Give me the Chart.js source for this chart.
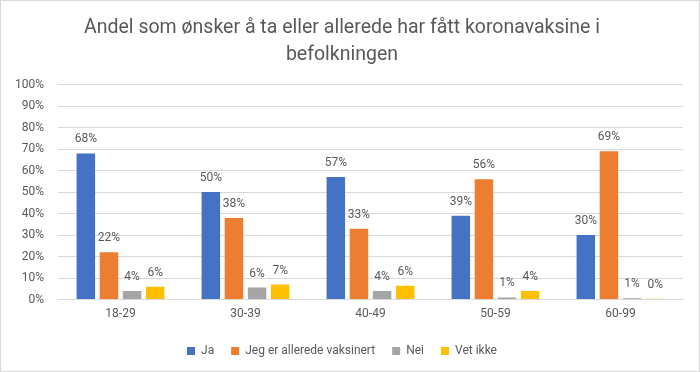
<!DOCTYPE html>
<html>
<head>
<meta charset="utf-8">
<script src="https://cdn.jsdelivr.net/npm/chart.js@4/dist/chart.umd.min.js"></script>
<style>
  html, body { margin: 0; padding: 0; background: #fff; }
  #wrap { position: relative; width: 698px; height: 370px; border: 1px solid #d9d9d9; }
</style>
</head>
<body>
<div id="wrap"><canvas id="chart" width="698" height="370"></canvas></div>
<script>
// categories (age groups)
const ageGroups = ["18-29", "30-39", "40-49", "50-59", "60-99"];

// series values, percent
const ja = [68, 50, 57, 39, 30];
const vaksinert = [22, 38, 33, 56, 69];
const nei = [4, 5.6, 4, 1, 0.6];
const vetIkke = [6, 7, 6.4, 4, 0.4];

const seriesNames = ["Ja", "Jeg er allerede vaksinert", "Nei", "Vet ikke"];
const colors = ["#4472C4", "#ED7D31", "#A5A5A5", "#FFC000"];

const fontFamily = "'Roboto', sans-serif";

// draws the % labels above each bar
const barLabels = {
  id: "barLabels",
  afterDatasetsDraw(chart) {
    const ctx = chart.ctx;
    ctx.save();
    ctx.font = "12px " + fontFamily;
    ctx.fillStyle = "#595959";
    ctx.textAlign = "center";
    ctx.textBaseline = "bottom";
    chart.data.datasets.forEach((ds, i) => {
      chart.getDatasetMeta(i).data.forEach((bar, j) => {
        ctx.fillText(Math.round(ds.data[j]) + "%", bar.x, bar.y - 8);
      });
    });
    ctx.restore();
  }
};

new Chart(document.getElementById("chart"), {
  type: "bar",
  data: {
    labels: ageGroups,
    datasets: [ja, vaksinert, nei, vetIkke].map((d, i) => ({
      label: seriesNames[i],
      data: d,
      backgroundColor: colors[i],
      categoryPercentage: 0.74,
      barPercentage: 0.8
    }))
  },
  options: {
    responsive: false,
    animation: false,
    layout: { padding: { left: 0, right: 16, top: 9, bottom: 4 } },
    plugins: {
      title: {
        display: true,
        text: ["Andel som ønsker å ta eller allerede har fått koronavaksine i", "befolkningen"],
        color: "#595959",
        font: { family: fontFamily, size: 19.5, weight: "normal", lineHeight: 1.4 },
        padding: { top: 4, bottom: 16 }
      },
      legend: {
        position: "bottom",
        labels: {
          boxWidth: 8,
          boxHeight: 8,
          color: "#595959",
          font: { family: fontFamily, size: 12 },
          padding: 17
        }
      },
      tooltip: { enabled: false }
    },
    scales: {
      y: {
        min: 0,
        max: 100,
        ticks: {
          stepSize: 10,
          callback: v => v + "%",
          color: "#595959",
          font: { family: fontFamily, size: 12 },
          padding: 14
        },
        grid: { color: "#d9d9d9", drawTicks: false },
        border: { display: false }
      },
      x: {
        ticks: {
          color: "#595959",
          font: { family: fontFamily, size: 12 },
          padding: 7
        },
        grid: { display: false, drawTicks: false },
        border: { color: "#d9d9d9" }
      }
    }
  },
  plugins: [barLabels]
});
</script>
</body>
</html>
